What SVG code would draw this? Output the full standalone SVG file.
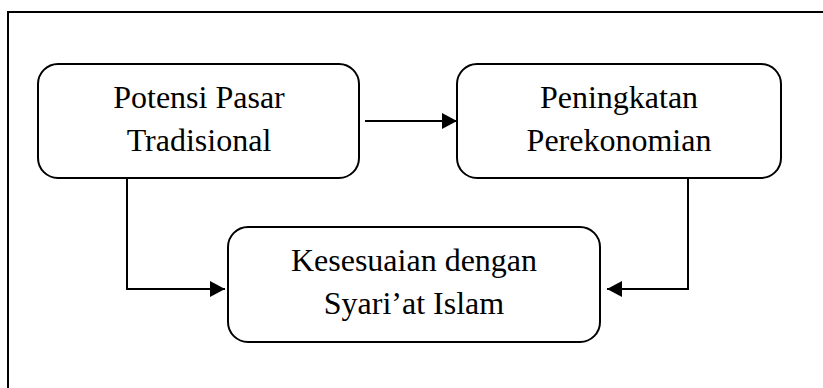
<svg xmlns="http://www.w3.org/2000/svg" width="823" height="388" viewBox="0 0 823 388">
<defs>
<style>
.box{fill:#fff;stroke:#000;stroke-width:2}
.lbl{font-family:"Liberation Serif","Times New Roman",serif;font-size:32px;fill:#000;text-anchor:middle}
.conn{fill:none;stroke:#000;stroke-width:2}
</style>
<marker id="ah" viewBox="0 0 15 16" refX="15" refY="8" markerWidth="15" markerHeight="16" markerUnits="userSpaceOnUse" orient="auto">
<path d="M0,0 L15,8 L0,16 Z" fill="#000"/>
</marker>
</defs>
<rect width="823" height="388" fill="#fff"/>
<rect id="frame" x="8" y="12" width="900" height="500" fill="none" stroke="#000" stroke-width="2"/>
<g id="n1">
<rect class="box" x="38" y="64" width="321" height="114" rx="20"/>
<text class="lbl" x="199" y="108">Potensi Pasar</text>
<text class="lbl" x="199" y="151">Tradisional</text>
</g>
<g id="n2">
<rect class="box" x="457" y="64" width="324" height="114" rx="20"/>
<text class="lbl" x="619" y="108">Peningkatan</text>
<text class="lbl" x="619" y="151">Perekonomian</text>
</g>
<g id="n3">
<rect class="box" x="228" y="227" width="372" height="115" rx="20"/>
<text class="lbl" x="414" y="271">Kesesuaian dengan</text>
<text class="lbl" x="414" y="314">Syari’at Islam</text>
</g>
<g id="connectors">
<path class="conn" d="M365,121 L457,121" marker-end="url(#ah)"/>
<path class="conn" d="M127,178 L127,289 L225,289" marker-end="url(#ah)"/>
<path class="conn" d="M688,178 L688,289 L607,289" marker-end="url(#ah)"/>
</g>
</svg>
